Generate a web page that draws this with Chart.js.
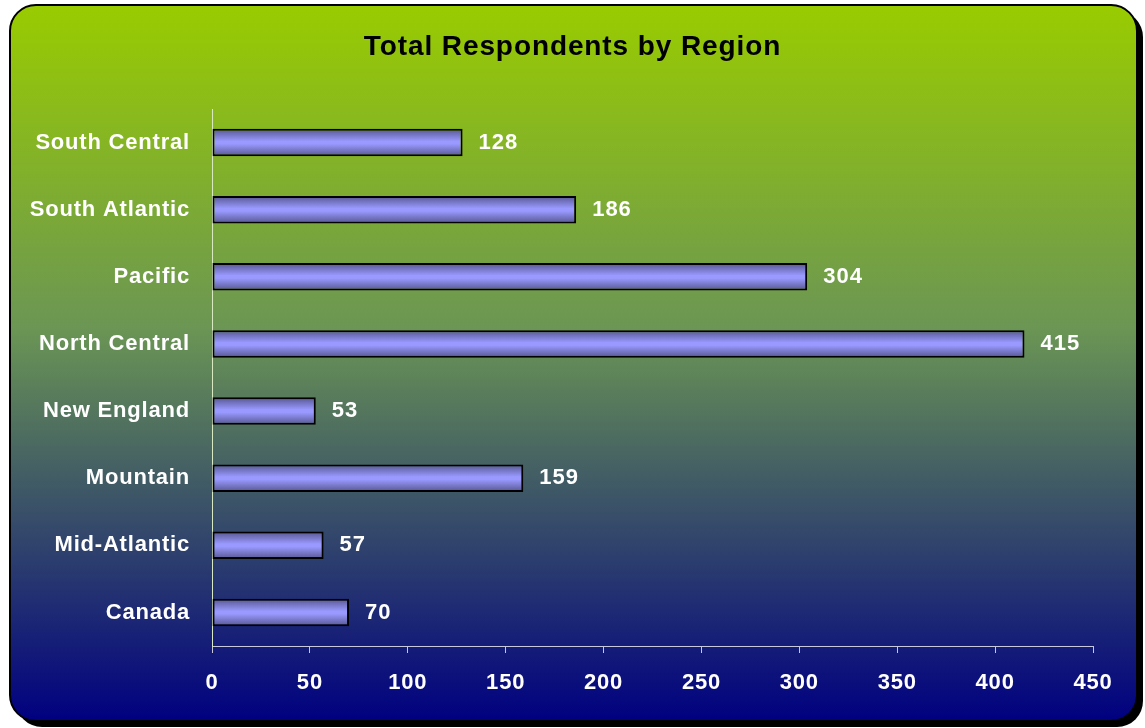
<!DOCTYPE html>
<html>
<head>
<meta charset="utf-8">
<script src="https://cdn.jsdelivr.net/npm/chart.js@4/dist/chart.umd.min.js"></script>
<style>
  html, body { margin: 0; padding: 0; background: #ffffff; }
  #wrap { width: 1145px; height: 728px; }
</style>
</head>
<body>
<div id="wrap"><canvas id="c" width="1145" height="728"></canvas></div>
<script>
// Regions and respondent counts
const regions = ['Canada', 'Mid-Atlantic', 'Mountain', 'New England', 'North Central', 'Pacific', 'South Atlantic', 'South Central'];
const respondents = [70, 57, 159, 53, 415, 304, 186, 128];
const xTicks = [0, 50, 100, 150, 200, 250, 300, 350, 400, 450];
const chartTitle = 'Total Respondents by Region';

const FONT = '"Liberation Sans", Arial, sans-serif';
const SPACING = '0.8px';

// Rounded panel with green-to-navy gradient, drop shadow and the centred heading
const panelPlugin = {
  id: 'panel',
  beforeDraw(chart) {
    const ctx = chart.ctx;
    const x = 10, y = 5, w = 1127, h = 716, r = 26;
    const rr = (ox, oy) => {
      ctx.beginPath();
      ctx.roundRect(x + ox, y + oy, w, h, r);
    };
    ctx.save();
    ctx.fillStyle = '#ffffff';
    ctx.fillRect(0, 0, chart.width, chart.height);
    rr(6, 6);
    ctx.fillStyle = '#000000';
    ctx.fill();
    const g = ctx.createLinearGradient(0, y, 0, y + h);
    g.addColorStop(0, '#99cc00');
    g.addColorStop(0.45, '#6b9654');
    g.addColorStop(1, '#000080');
    rr(0, 0);
    ctx.fillStyle = g;
    ctx.fill();
    ctx.lineWidth = 2;
    ctx.strokeStyle = '#000000';
    ctx.stroke();

    ctx.letterSpacing = '0.9px';
    ctx.font = 'bold 28px ' + FONT;
    ctx.fillStyle = '#000000';
    ctx.textAlign = 'center';
    ctx.textBaseline = 'middle';
    ctx.fillText(chartTitle, chart.width / 2, 47);
    ctx.restore();
    // slightly open lettering for all text that follows
    ctx.letterSpacing = SPACING;
  }
};

// Value labels at the end of each bar
const valueLabels = {
  id: 'valueLabels',
  afterDatasetsDraw(chart) {
    const ctx = chart.ctx;
    const meta = chart.getDatasetMeta(0);
    ctx.save();
    ctx.letterSpacing = '1px';
    ctx.font = 'bold 22px ' + FONT;
    ctx.fillStyle = '#ffffff';
    ctx.textAlign = 'left';
    ctx.textBaseline = 'middle';
    meta.data.forEach((bar, i) => {
      ctx.fillText(String(respondents[i]), bar.x + 16, bar.y);
    });
    ctx.restore();
  }
};

function barFill(context) {
  const chart = context.chart;
  const yScale = chart.scales.y;
  if (!yScale || !chart.chartArea) return '#9999ff';
  const cy = yScale.getPixelForValue(context.dataIndex);
  const half = yScale.height / regions.length * 0.41 / 2;
  const g = chart.ctx.createLinearGradient(0, cy - half, 0, cy + half);
  g.addColorStop(0, '#55558f');
  g.addColorStop(0.45, '#9999ff');
  g.addColorStop(0.55, '#9999ff');
  g.addColorStop(1, '#55558f');
  return g;
}

new Chart(document.getElementById('c'), {
  type: 'bar',
  data: {
    labels: regions,
    datasets: [{
      data: respondents,
      backgroundColor: barFill,
      borderColor: '#000000',
      borderWidth: 2,
      borderSkipped: false,
      categoryPercentage: 1.0,
      barPercentage: 0.41
    }]
  },
  options: {
    indexAxis: 'y',
    responsive: false,
    animation: false,
    layout: { padding: { left: 0, right: 52, top: 109, bottom: 0 } },
    plugins: {
      legend: { display: false },
      tooltip: { enabled: false },
      title: { display: false }
    },
    scales: {
      x: {
        type: 'linear',
        min: 0,
        max: 450,
        afterBuildTicks(scale) { scale.ticks = xTicks.map(v => ({ value: v })); },
        afterFit(scale) { scale.height = 82; },
        grid: { display: true, drawOnChartArea: false, drawTicks: true, tickLength: 7, color: '#c8c8dc', lineWidth: 1 },
        border: { display: true, color: '#c8c8dc', width: 1 },
        ticks: { color: '#ffffff', font: { family: FONT, size: 22, weight: 'bold' }, padding: 17, maxRotation: 0 }
      },
      y: {
        reverse: true,
        afterFit(scale) { scale.width = 212; },
        grid: { display: false },
        border: { display: true, color: '#d8e8c0', width: 1 },
        ticks: { color: '#ffffff', font: { family: FONT, size: 22, weight: 'bold' }, padding: 14 }
      }
    }
  },
  plugins: [panelPlugin, valueLabels]
});
</script>
</body>
</html>
